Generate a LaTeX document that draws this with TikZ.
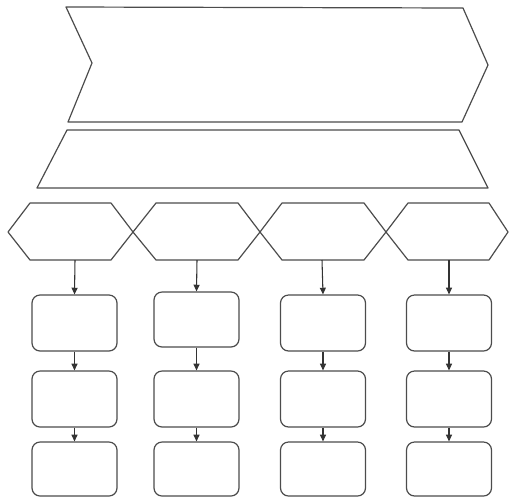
\documentclass[tikz,border=0pt]{standalone}
\usetikzlibrary{arrows.meta}
\begin{document}
\begin{tikzpicture}[x=0.75pt,y=-0.75pt,
  outline/.style={draw=black!70,line width=0.9pt,line join=round},
  card/.style={outline,rounded corners=6pt,minimum width=63.75pt,minimum height=42pt,inner sep=0pt},
  link/.style={draw=black!80,line width=0.8pt,-{Triangle[length=5pt,width=4.5pt]}}]
\useasboundingbox (0,0) rectangle (509,497);
% chevron
\draw[outline] (66,7) -- (463,8) -- (488,65) -- (462,122) -- (68,122) -- (92,63) -- cycle;
\coordinate (chev) at (277,65);
% trapezoid
\draw[outline] (67,130) -- (459,130) -- (488,188) -- (37,188) -- cycle;
\coordinate (trap) at (262,159);
% hexagons
\draw[outline] (8,232) -- (30,203) -- (111,203) -- (133,232) -- (111,260) -- (30,260) -- cycle;
\draw[outline] (133,232) -- (156,203) -- (238,203) -- (260,232) -- (238,260) -- (156,260) -- cycle;
\draw[outline] (260,232) -- (282,203) -- (364,203) -- (386,232) -- (364,260) -- (282,260) -- cycle;
\draw[outline] (386,232) -- (408,203) -- (489,203) -- (508,232) -- (489,260) -- (408,260) -- cycle;
\coordinate (h1) at (75,260);
\coordinate (h2) at (197,260);
\coordinate (h3) at (322,260);
\coordinate (h4) at (449,260);
% boxes
\node[card] (a1) at (74.5,323) {};
\node[card] (a2) at (74.5,399) {};
\node[card,minimum height=40.5pt] (a3) at (74.5,469) {};
\node[card,minimum height=41.25pt] (b1) at (196.5,319.5) {};
\node[card] (b2) at (196.5,399) {};
\node[card,minimum height=40.5pt] (b3) at (196.5,469) {};
\node[card] (c1) at (323,323) {};
\node[card] (c2) at (323,399) {};
\node[card,minimum height=40.5pt] (c3) at (323,469) {};
\node[card] (d1) at (449,323) {};
\node[card] (d2) at (449,399) {};
\node[card,minimum height=40.5pt] (d3) at (449,469) {};
% arrows
\draw[link] (h1) -- (a1.north);
\draw[link] (h2) -- (b1.north);
\draw[link] (h3) -- (c1.north);
\draw[link] (h4) -- (d1.north);
\draw[link] (a1) -- (a2);
\draw[link] (a2) -- (a3);
\draw[link] (b1) -- (b2);
\draw[link] (b2) -- (b3);
\draw[link] (c1) -- (c2);
\draw[link] (c2) -- (c3);
\draw[link] (d1) -- (d2);
\draw[link] (d2) -- (d3);
\end{tikzpicture}
\end{document}
